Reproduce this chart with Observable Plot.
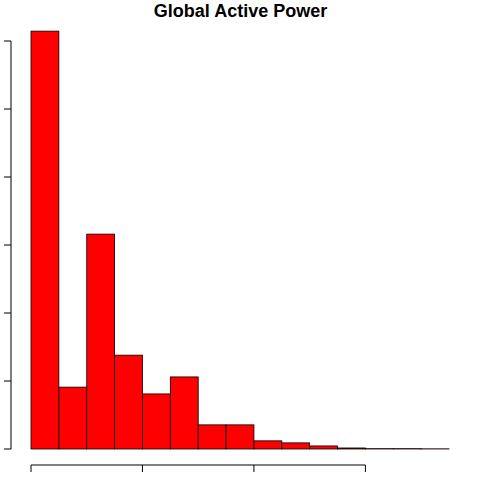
<!DOCTYPE html>
<html><head>
<script src="https://cdn.jsdelivr.net/npm/d3@7"></script>
<script src="https://cdn.jsdelivr.net/npm/@observablehq/plot@0.6"></script>
<style>body{margin:0;background:#fff}</style>
</head><body><div id="c"></div>
<script>
const binStarts = [0,0.5,1,1.5,2,2.5,3,3.5,4,4.5,5,5.5,6,6.5,7];
const counts = [1229,182,632,276,162,212,71,71,24,18,9,3,1,1,0.5];
const xTicks = [0,2,4,6];
const yTicks = [0,200,400,600,800,1000,1200];
const data = binStarts.map((s,i)=>({x1:s,x2:s+0.5,y:counts[i]}));
const plot = Plot.plot({
  width:480,height:480,marginLeft:31,marginRight:31,marginTop:41,marginBottom:31,
  x:{domain:[0,7.5],axis:null},
  y:{domain:[0,1200],axis:null},
  marks:[
    Plot.rectY(data,{x1:"x1",x2:"x2",y:"y",fill:"#ff0000",stroke:"#000",strokeWidth:0.8,clip:false}),
    Plot.text(["Global Active Power"],{frameAnchor:"top",dy:-37,fontSize:18,fontWeight:"bold",fontFamily:"Liberation Sans, Arial",fill:"#000"})
  ]
});
document.getElementById("c").appendChild(plot);
const sx = plot.scale("x"), sy = plot.scale("y");
const svg = d3.select(plot);
const g = svg.append("g").attr("stroke","#000").attr("stroke-width",1).attr("fill","none");
const ay = 465;
g.append("line").attr("x1",sx.apply(xTicks[0])).attr("x2",sx.apply(xTicks[xTicks.length-1])).attr("y1",ay).attr("y2",ay);
xTicks.forEach(t=>g.append("line").attr("x1",sx.apply(t)).attr("x2",sx.apply(t)).attr("y1",ay).attr("y2",ay+7));
const ax = 11;
g.append("line").attr("x1",ax).attr("x2",ax).attr("y1",sy.apply(yTicks[0])).attr("y2",sy.apply(yTicks[yTicks.length-1]));
yTicks.forEach(t=>g.append("line").attr("x1",ax).attr("x2",ax-7).attr("y1",sy.apply(t)).attr("y2",sy.apply(t)));
</script></body></html>
